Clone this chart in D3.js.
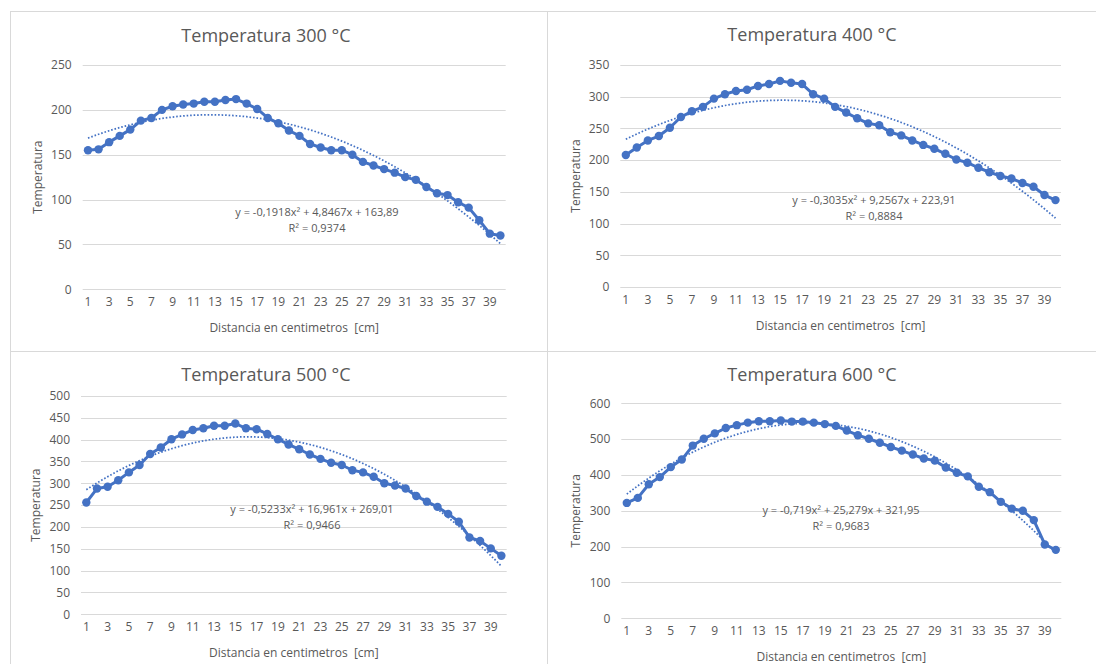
<!DOCTYPE html>
<html>
<head>
<meta charset="utf-8">
<script src="https://cdn.jsdelivr.net/npm/d3@7"></script>
<style>
  body { margin: 0; background: #fff; }
  svg { display: block; font-family: "Open Sans", sans-serif; }
</style>
</head>
<body>
<div id="chart"></div>
<script>
// distance categories (cm)
const distances = d3.range(1, 41);

// measured temperatures per furnace setting
const temps300 = [155,156,164,171,178,188,191,200,204,206,207,209,209,211,212,207,201,191,185,177,171,162,158,155,155,150,142,138,134,130,125,122,114,107,105,97,91,77,62,60];
const temps400 = [208,220,231,238,251,268,277,284,297,304,309,311,317,320,325,322,320,304,297,284,275,266,258,255,244,239,231,224,218,210,201,196,188,181,175,171,164,158,145,137];
const temps500 = [256,288,292,307,325,342,367,382,401,412,422,426,432,432,437,426,424,413,401,389,378,366,356,347,342,330,325,315,300,295,288,271,258,246,230,212,176,168,151,134];
const temps600 = [322,336,374,394,422,443,482,501,516,531,539,546,550,550,552,549,549,546,542,537,524,511,501,490,478,468,457,446,440,421,406,396,367,352,325,306,300,274,206,191];

// chart titles
const titles = ["Temperatura 300 °C", "Temperatura 400 °C", "Temperatura 500 °C", "Temperatura 600 °C"];

// polynomial trendline coefficients [a, b, c] as shown on the charts
const trend300 = [-0.1918, 4.8467, 163.89];
const trend400 = [-0.3035, 9.2567, 223.91];
const trend500 = [-0.5233, 16.961, 269.01];
const trend600 = [-0.719, 25.279, 321.95];

// labels printed next to the trendlines
const eqLabels = ["y = -0,1918x² + 4,8467x + 163,89", "y = -0,3035x² + 9,2567x + 223,91", "y = -0,5233x² + 16,961x + 269,01", "y = -0,719x² + 25,279x + 321,95"];
const r2Labels = ["R² = 0,9374", "R² = 0,8884", "R² = 0,9466", "R² = 0,9683"];

// y axis maxima and tick steps
const yMax = [250, 350, 500, 600];
const yStep = [50, 50, 50, 100];

const xTitle = "Distancia en centimetros  [cm]";
const yTitle = "Temperatura";

const series = [temps300, temps400, temps500, temps600];
const trends = [trend300, trend400, trend500, trend600];

// layout of each panel (pixels)
const panels = [
  { x0: 82.7, x1: 505.7, yTop: 65, yBot: 289.3, titleX: 266, titleY: 36, eqX: 317, eqY: 212, xtY: 305, xtitleY: 328, ytitleX: 38 },
  { x0: 620.3, x1: 1061, yTop: 65, yBot: 287, titleX: 812, titleY: 35, eqX: 874, eqY: 200, xtY: 303, xtitleY: 326, ytitleX: 576 },
  { x0: 81, x1: 506.7, yTop: 396, yBot: 614.3, titleX: 266, titleY: 375, eqX: 312, eqY: 509, xtY: 630, xtitleY: 653, ytitleX: 36 },
  { x0: 621.3, x1: 1061.3, yTop: 403.3, yBot: 618.3, titleX: 812, titleY: 375, eqX: 841, eqY: 510, xtY: 634, xtitleY: 657, ytitleX: 576 }
];

const blue = "#4472c4";
const grey = "#595959";
const gridColor = "#d9d9d9";

const svg = d3.select("#chart").append("svg")
  .attr("width", 1096)
  .attr("height", 664);

// panel frames
svg.append("rect").attr("x", 10.5).attr("y", 11.5).attr("width", 1100).attr("height", 700)
  .attr("fill", "none").attr("stroke", gridColor);
svg.append("line").attr("x1", 547.5).attr("x2", 547.5).attr("y1", 11.5).attr("y2", 664)
  .attr("stroke", gridColor);
svg.append("line").attr("x1", 10.5).attr("x2", 1096).attr("y1", 351.5).attr("y2", 351.5)
  .attr("stroke", gridColor);

panels.forEach((p, i) => {
  const data = series[i];
  const g = svg.append("g");

  // scales
  const xScale = d3.scaleBand().domain(distances).range([p.x0, p.x1]).padding(0);
  const cx = d => xScale(d) + xScale.bandwidth() / 2;
  const xLin = d3.scaleLinear().domain([1, 40]).range([cx(1), cx(40)]);
  const yScale = d3.scaleLinear().domain([0, yMax[i]]).range([p.yBot, p.yTop]);
  const ticks = d3.range(0, yMax[i] + 1, yStep[i]);

  // gridlines
  g.append("g")
    .selectAll("line")
    .data(ticks)
    .join("line")
    .attr("x1", p.x0).attr("x2", p.x1)
    .attr("y1", d => Math.round(yScale(d)) + 0.5)
    .attr("y2", d => Math.round(yScale(d)) + 0.5)
    .attr("stroke", gridColor)
    .attr("stroke-width", 1);

  // y axis labels
  const yAxis = g.append("g")
    .attr("transform", `translate(${p.x0}, 0)`)
    .call(d3.axisLeft(yScale).tickValues(ticks).tickSize(0).tickPadding(11));
  yAxis.select(".domain").remove();
  yAxis.selectAll("text").attr("fill", grey).style("font-size", "12px").style("font-family", "Open Sans");

  // x axis labels (odd categories only)
  const xAxis = g.append("g")
    .attr("transform", `translate(0, ${p.xtY - 8})`)
    .call(d3.axisBottom(xScale).tickValues(distances.filter(d => d % 2 === 1)).tickSize(0).tickPadding(0));
  xAxis.select(".domain").remove();
  xAxis.selectAll("text").attr("fill", grey).style("font-size", "12px").style("font-family", "Open Sans");

  // trendline
  const trend = trends[i];
  const trendPts = d3.range(1, 40.01, 0.25).map(x => [x, trend[0] * x * x + trend[1] * x + trend[2]]);
  g.append("path")
    .datum(trendPts)
    .attr("fill", "none")
    .attr("stroke", blue)
    .attr("stroke-width", 1.75)
    .attr("stroke-dasharray", "1.6,1.9")
    .attr("d", d3.line().x(d => xLin(d[0])).y(d => yScale(d[1])));

  // data line
  g.append("path")
    .datum(data)
    .attr("fill", "none")
    .attr("stroke", blue)
    .attr("stroke-width", 3)
    .attr("stroke-linejoin", "round")
    .attr("d", d3.line().x((d, j) => cx(distances[j])).y(d => yScale(d)));

  // markers
  g.append("g")
    .selectAll("circle")
    .data(data)
    .join("circle")
    .attr("cx", (d, j) => cx(distances[j]))
    .attr("cy", d => yScale(d))
    .attr("r", 4.2)
    .attr("fill", blue);

  // trendline equation
  g.append("text")
    .attr("x", p.eqX).attr("y", p.eqY + 4)
    .attr("text-anchor", "middle")
    .attr("fill", grey)
    .style("font-size", "11px")
    .text(eqLabels[i]);
  g.append("text")
    .attr("x", p.eqX).attr("y", p.eqY + 20)
    .attr("text-anchor", "middle")
    .attr("fill", grey)
    .style("font-size", "11px")
    .text(r2Labels[i]);

  // title
  g.append("text")
    .attr("x", p.titleX).attr("y", p.titleY + 6)
    .attr("text-anchor", "middle")
    .attr("fill", grey)
    .style("font-size", "18px")
    .text(titles[i]);

  // axis titles
  g.append("text")
    .attr("x", (p.x0 + p.x1) / 2).attr("y", p.xtitleY + 4)
    .attr("text-anchor", "middle")
    .attr("fill", grey)
    .style("font-size", "12px")
    .style("white-space", "pre")
    .text(xTitle);
  g.append("text")
    .attr("transform", `translate(${p.ytitleX + 4}, ${(p.yTop + p.yBot) / 2}) rotate(-90)`)
    .attr("text-anchor", "middle")
    .attr("fill", grey)
    .style("font-size", "12px")
    .text(yTitle);
});
</script>
</body>
</html>
